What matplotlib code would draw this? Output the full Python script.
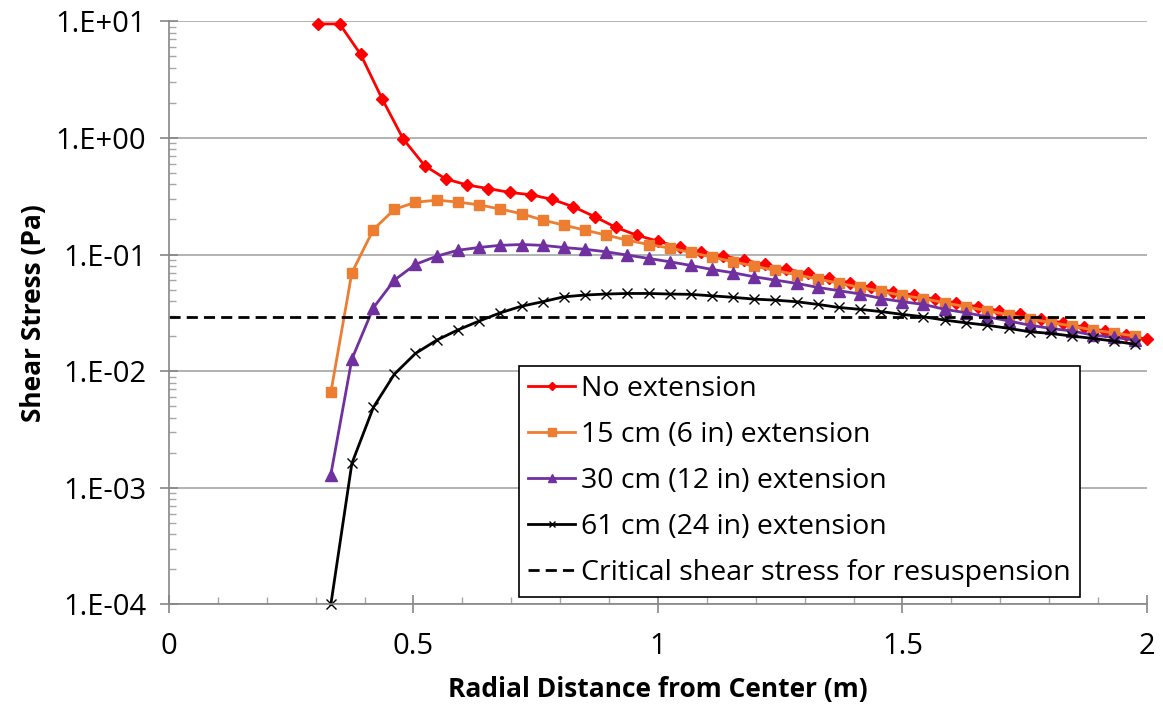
import math
import matplotlib
matplotlib.use('Agg')
import matplotlib.pyplot as plt
from matplotlib.ticker import FixedLocator, FuncFormatter, LogLocator, MultipleLocator

plt.rcParams['font.family'] = ['Open Sans', 'DejaVu Sans']

# radial positions (m) for the no-extension case
x_none = [0.305, 0.349, 0.392, 0.436, 0.479, 0.523, 0.566, 0.610, 0.653, 0.697,
          0.740, 0.784, 0.827, 0.871, 0.914, 0.958, 1.001, 1.045, 1.088, 1.132,
          1.175, 1.219, 1.262, 1.306, 1.349, 1.393, 1.436, 1.480, 1.523, 1.567,
          1.610, 1.654, 1.697, 1.741, 1.784, 1.828, 1.871, 1.915, 1.958, 2.000]

# radial positions (m) for the runs with an extension
x_ext = [0.331, 0.374, 0.418, 0.461, 0.504, 0.548, 0.591, 0.634, 0.677, 0.721,
         0.764, 0.807, 0.851, 0.894, 0.937, 0.981, 1.024, 1.067, 1.110, 1.154,
         1.197, 1.240, 1.284, 1.327, 1.370, 1.414, 1.457, 1.500, 1.543, 1.587,
         1.630, 1.673, 1.717, 1.760, 1.803, 1.847, 1.890, 1.933, 1.976]

tau_none = [9.5, 9.5, 5.2, 2.16, 0.98, 0.578, 0.445, 0.395, 0.368, 0.341,
            0.326, 0.297, 0.257, 0.211, 0.171, 0.146, 0.130, 0.115, 0.1057, 0.0977,
            0.0897, 0.0824, 0.0751, 0.069, 0.0625, 0.0573, 0.0523, 0.048, 0.045, 0.0413,
            0.0385, 0.0357, 0.033, 0.0307, 0.028, 0.026, 0.0238, 0.0221, 0.0203, 0.0188]

tau_15cm = [0.00658, 0.0698, 0.164, 0.244, 0.281, 0.293, 0.282, 0.267, 0.246, 0.224,
            0.198, 0.179, 0.162, 0.147, 0.133, 0.122, 0.1137, 0.1045, 0.0953, 0.0868,
            0.0796, 0.0731, 0.0671, 0.0616, 0.057, 0.0523, 0.0483, 0.0446, 0.042, 0.0386,
            0.0357, 0.033, 0.0305, 0.028, 0.0262, 0.0244, 0.0225, 0.0213, 0.020]

tau_30cm = [0.0013, 0.0127, 0.035, 0.0604, 0.0824, 0.097, 0.109, 0.115, 0.120, 0.122,
            0.120, 0.115, 0.111, 0.1057, 0.099, 0.0927, 0.0868, 0.0807, 0.0746, 0.0698,
            0.0645, 0.0604, 0.0566, 0.0523, 0.049, 0.0459, 0.042, 0.0394, 0.0374, 0.0339,
            0.0317, 0.0293, 0.027, 0.0248, 0.0233, 0.0221, 0.0204, 0.0195, 0.0185]

tau_61cm = [0.0001, 0.00162, 0.0049, 0.00944, 0.0142, 0.0185, 0.0226, 0.0269, 0.0316, 0.0361,
            0.0394, 0.0434, 0.045, 0.0459, 0.0464, 0.0464, 0.0459, 0.0456, 0.0443, 0.043,
            0.0415, 0.0407, 0.0394, 0.0374, 0.0352, 0.0339, 0.0324, 0.0307, 0.0293, 0.0274,
            0.026, 0.0248, 0.0233, 0.0218, 0.0211, 0.020, 0.0191, 0.0181, 0.017]

tau_critical = 0.029

labels = ["No extension", "15 cm (6 in) extension", "30 cm (12 in) extension",
          "61 cm (24 in) extension", "Critical shear stress for resuspension"]

fig = plt.figure(figsize=(11.63, 7.10), dpi=100)
ax = fig.add_axes([0.1453, 0.1486, 0.8409, 0.8214])

ax.plot(x_none, tau_none, color='#ff0000', lw=2, marker='D', ms=6.5,
        label=labels[0], clip_on=False)
ax.plot(x_ext, tau_15cm, color='#ed7d31', lw=2, marker='s', ms=7.5,
        label=labels[1], clip_on=False)
ax.plot(x_ext, tau_30cm, color='#7030a0', lw=2, marker='^', ms=8,
        label=labels[2], clip_on=False)
ax.plot(x_ext, tau_61cm, color='black', lw=2, marker='x', ms=7, mew=1,
        label=labels[3], clip_on=False)
ax.axhline(tau_critical, color='black', lw=2, ls=(0, (4, 2.2)), label=labels[4])

ax.set_yscale('log')
ax.set_xlim(0, 2)
ax.set_ylim(1e-4, 1e1)

ax.xaxis.set_major_locator(MultipleLocator(0.5))
ax.xaxis.set_minor_locator(MultipleLocator(0.1))
ax.xaxis.set_major_formatter(FuncFormatter(lambda v, p: f"{v:g}"))
ax.yaxis.set_major_locator(FixedLocator([1e-4, 1e-3, 1e-2, 1e-1, 1e0, 1e1]))
ax.yaxis.set_minor_locator(LogLocator(base=10, subs=range(2, 10)))
ax.yaxis.set_minor_formatter(FuncFormatter(lambda v, p: ""))


def sci_label(v, pos):
    exp = int(round(math.log10(v)))
    return f"1.E{exp:+03d}"


ax.yaxis.set_major_formatter(FuncFormatter(sci_label))

ax.grid(axis='y', which='major', color='#a6a6a6', lw=1.2)
ax.set_axisbelow(True)
for side in ['top', 'right']:
    ax.spines[side].set_visible(False)
for side in ['left', 'bottom']:
    ax.spines[side].set_color('#868686')
    ax.spines[side].set_linewidth(1.2)

ax.tick_params(axis='both', which='major', direction='inout', length=13,
               color='#868686', width=1.2, labelsize=21)
ax.tick_params(axis='y', which='major', pad=10)
ax.tick_params(axis='x', which='major', pad=13)
ax.tick_params(axis='both', which='minor', direction='in', length=5,
               color='#a6a6a6', width=1)

ax.set_xlabel("Radial Distance from Center (m)", fontsize=19, fontweight='bold', labelpad=11)
ax.set_ylabel("Shear Stress (Pa)", fontsize=19, fontweight='bold', labelpad=6)

leg = ax.legend(loc='upper left', bbox_to_anchor=(0.358, 0.409), fontsize=20.5,
                frameon=True, fancybox=False, edgecolor='black', framealpha=1,
                handlelength=1.65, handletextpad=0.2, labelspacing=0.63,
                borderpad=0.33, borderaxespad=0, markerscale=0.7)
leg.get_frame().set_linewidth(1.2)

fig.savefig('out.png', dpi=100)
